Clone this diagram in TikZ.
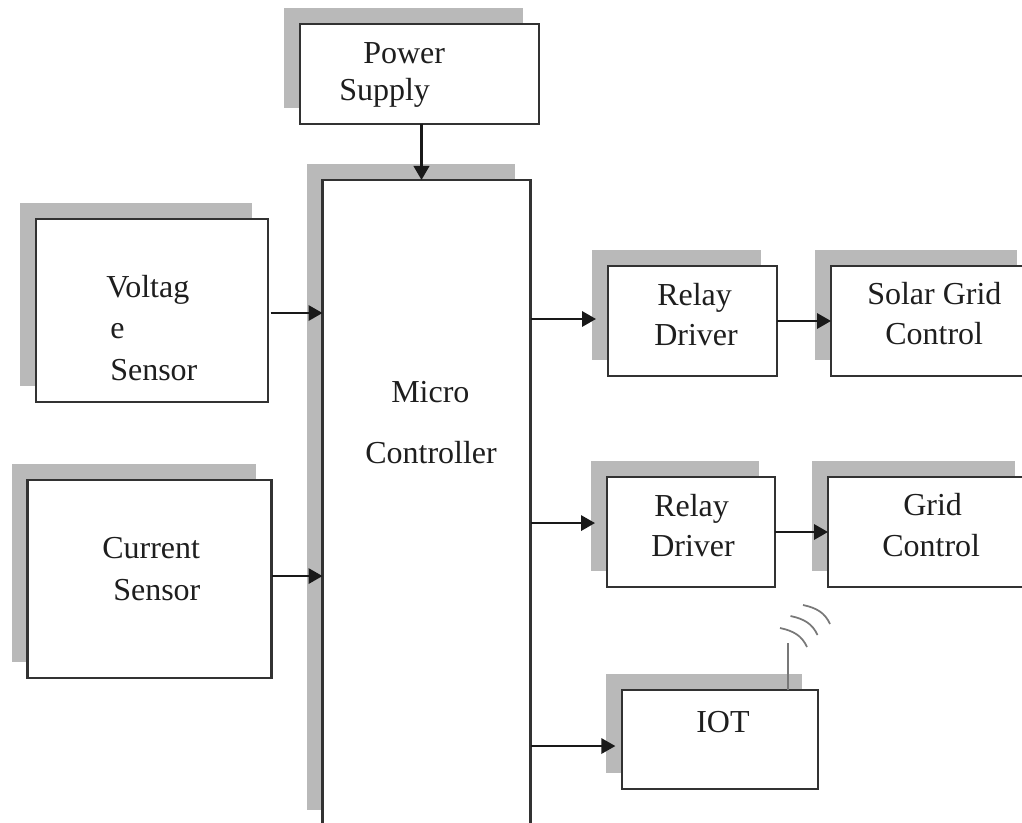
\documentclass[tikz,border=0pt]{standalone}
\usepackage{fontspec}
\setmainfont{Liberation Serif}
\usepackage{tikz}
\usetikzlibrary{arrows.meta, shadows}
\definecolor{shadowgray}{RGB}{185,185,185}
\definecolor{edgegray}{RGB}{50,50,50}
\definecolor{antennagray}{RGB}{120,120,120}
\definecolor{textgray}{RGB}{30,30,30}

\begin{document}
\begin{tikzpicture}[
      x=0.75pt, y=-0.75pt,
      blockbox/.style 2 args={draw=edgegray, fill=white, line width=1.9pt, outer sep=0pt, inner sep=0pt,
        minimum width=#1*0.75pt, minimum height=#2*0.75pt,
        general shadow={shadow xshift=-12pt, shadow yshift=11.7pt, fill=shadowgray}},
      boxlabel/.style={anchor=base west, inner sep=0pt, text=textgray, font=\fontsize{24}{28}\selectfont},
      flow/.style={-{Triangle[length=10.5pt, width=11.5pt]}, line width=1.7pt, draw=black!90},
      antenna/.style={draw=antennagray, line width=1.3pt}
    ]
      \useasboundingbox (0,0) rectangle (1022,823);
      % blocks
      \node[blockbox={239}{100}] (power) at (419.5,74) {};
      \node[blockbox={208}{646}] (micro) at (426.5,503) {};
      \node[blockbox={232}{183}] (voltage) at (152,310.5) {};
      \node[blockbox={244}{198}] (current) at (149.5,579) {};
      \node[blockbox={169}{110}] (relayA) at (692.5,321) {};
      \node[blockbox={202}{110}] (solar) at (932,321) {};
      \node[blockbox={168}{110}] (relayB) at (691,532) {};
      \node[blockbox={203}{110}] (grid) at (929.5,532) {};
      \node[blockbox={196}{99}] (iot) at (720,739.5) {};
      % labels
      \node[boxlabel] (powerA) at (363,64) {Power};
      \node[boxlabel] (powerB) at (339,101) {Supply};
      \node[boxlabel] (voltageA) at (106,298) {Voltag};
      \node[boxlabel] (voltageB) at (110,339) {e};
      \node[boxlabel] (voltageC) at (110,381) {Sensor};
      \node[boxlabel] (currentA) at (102,559) {Current};
      \node[boxlabel] (currentB) at (113,600) {Sensor};
      \node[boxlabel] (microA) at (391,403) {Micro};
      \node[boxlabel] (microB) at (365,464) {Controller};
      \node[boxlabel] (relayAa) at (657,306) {Relay};
      \node[boxlabel] (relayAb) at (654,346) {Driver};
      \node[boxlabel] (solarA) at (867,305) {Solar Grid};
      \node[boxlabel] (solarB) at (885,345) {Control};
      \node[boxlabel] (relayBa) at (654,517) {Relay};
      \node[boxlabel] (relayBb) at (651,557) {Driver};
      \node[boxlabel] (gridA) at (903,516) {Grid};
      \node[boxlabel] (gridB) at (882,557) {Control};
      \node[boxlabel] (iotA) at (696,732) {IOT};
      % connectors
      \draw[flow, line width=2.1pt] ([xshift=1.5pt]power.south) -- ([xshift=1.5pt]power.south |- micro.north);
      \draw[flow] ([yshift=-1.9pt,xshift=2pt]voltage.east) -- ([yshift=-1.9pt]voltage.east -| micro.west);
      \draw[flow] ([yshift=2.2pt]current.east) -- ([yshift=2.2pt]current.east -| micro.west);
      \draw[flow] ([yshift=1.5pt]relayA.west -| micro.east) -- ([yshift=1.5pt,xshift=-9pt]relayA.west);
      \draw[flow] (relayA.east) -- (relayA.east -| solar.west);
      \draw[flow] ([yshift=6.7pt]relayB.west -| micro.east) -- ([yshift=6.7pt,xshift=-9pt]relayB.west);
      \draw[flow] (relayB.east) -- (relayB.east -| grid.west);
      \draw[flow] ([yshift=-4.9pt]iot.west -| micro.east) -- ([yshift=-4.9pt,xshift=-5pt]iot.west);
      % antenna
      \coordinate (antennatip) at (788,643);
      \draw[antenna] ([xshift=51pt]iot.north) -- (antennatip);
      \foreach \ax/\ay in {780/628, 790.5/616, 803/605}
        \draw[antenna] (\ax,\ay) .. controls +(14,3) and +(-5,-11) .. +(27,19);
    \end{tikzpicture}
\end{document}
